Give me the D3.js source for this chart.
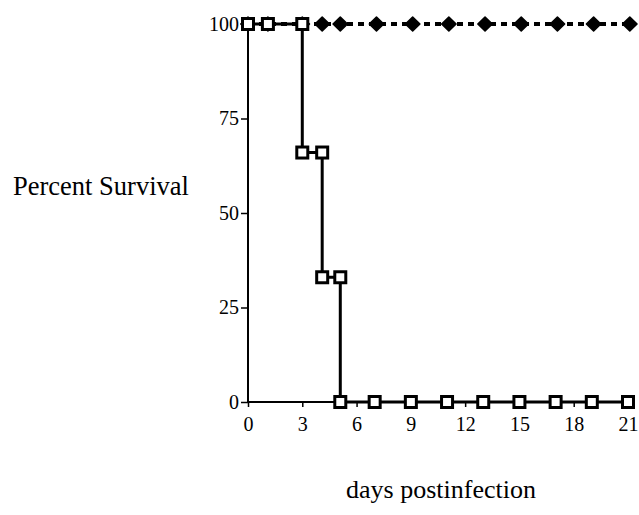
<!DOCTYPE html>
<html>
<head>
<meta charset="utf-8">
<script src="https://cdn.jsdelivr.net/npm/d3@7"></script>
<style>
  body { margin: 0; background: #fff; }
  text { font-family: "Liberation Serif", "Times New Roman", serif; fill: #000; }
</style>
</head>
<body>
<div id="chart"></div>
<script>
// data
var squareDays = [0, 1.1, 3, 3, 4.1, 4.1, 5.1, 5.1, 7, 9, 11, 13, 15, 17, 19, 21];
var squareSurvival = [100, 100, 100, 66, 66, 33, 33, 0, 0, 0, 0, 0, 0, 0, 0, 0];
var diamondDays = [0, 1.1, 3, 4.1, 5.1, 7.1, 9.1, 11.1, 13.1, 15.1, 17.1, 19.1, 21.1];
var diamondSurvival = [100, 100, 100, 100, 100, 100, 100, 100, 100, 100, 100, 100, 100];
var xTicks = [0, 3, 6, 9, 12, 15, 18, 21];
var yTicks = [0, 25, 50, 75, 100];

// set the dimensions and margins of the graph
var margin = {top: 24, right: 11, bottom: 113, left: 248},
    width = 639 - margin.left - margin.right,
    height = 515 - margin.top - margin.bottom;

var svg = d3.select("#chart")
  .append("svg")
    .attr("width", 639)
    .attr("height", 515)
  .append("g")
    .attr("transform", "translate(" + margin.left + "," + margin.top + ")");

var x = d3.scaleLinear().domain([0, 21]).range([0, width]);
var y = d3.scaleLinear().domain([0, 100]).range([height, 0]);

// axes
var xAxis = svg.append("g")
  .attr("transform", "translate(0," + height + ")")
  .call(d3.axisBottom(x).tickValues(xTicks).tickSize(5).tickPadding(10));
var yAxis = svg.append("g")
  .call(d3.axisLeft(y).tickValues(yTicks).tickSize(7).tickPadding(2));

[xAxis, yAxis].forEach(function(a) {
  a.select(".domain").attr("stroke-width", 2).attr("stroke", "#000");
  a.selectAll(".tick line").attr("stroke-width", 1.5).attr("stroke", "#000");
  a.selectAll(".tick text").style("font-size", "20px").style("font-family", "Liberation Serif");
});
xAxis.select(".domain").attr("d", "M0,0H" + width);
yAxis.select(".domain").attr("d", "M0," + height + "V0");

// diamond series (dashed)
var diamonds = diamondDays.map(function(d, i) { return [d, diamondSurvival[i]]; });
svg.append("path")
  .datum(diamonds)
  .attr("d", d3.line().x(function(d) { return x(d[0]); }).y(function(d) { return y(d[1]); }))
  .attr("fill", "none")
  .attr("stroke", "#000")
  .attr("stroke-width", 4)
  .attr("stroke-dasharray", "6,5");
svg.selectAll(".diamond")
  .data(diamonds)
  .enter()
  .append("path")
    .attr("class", "diamond")
    .attr("d", d3.symbol().type(d3.symbolDiamond2).size(120))
    .attr("transform", function(d) { return "translate(" + x(d[0]) + "," + y(d[1]) + ") scale(1.05,1)"; })
    .attr("fill", "#000")
    .attr("stroke", "#000")
    .attr("stroke-width", 1.5)
    .attr("stroke-linejoin", "round");

// square series (solid)
var squares = squareDays.map(function(d, i) { return [d, squareSurvival[i]]; });
svg.append("path")
  .datum(squares)
  .attr("d", d3.line().x(function(d) { return x(d[0]); }).y(function(d) { return y(d[1]); }))
  .attr("fill", "none")
  .attr("stroke", "#000")
  .attr("stroke-width", 3);
svg.selectAll(".square")
  .data(squares)
  .enter()
  .append("rect")
    .attr("class", "square")
    .attr("x", function(d) { return x(d[0]) - 5.5; })
    .attr("y", function(d) { return y(d[1]) - 5.5; })
    .attr("width", 11)
    .attr("height", 11)
    .attr("fill", "#fff")
    .attr("stroke", "#000")
    .attr("stroke-width", 3);

// axis titles
d3.select("svg").append("text")
  .attr("x", 13)
  .attr("y", 195)
  .style("font-size", "26.5px")
  .text("Percent Survival");
d3.select("svg").append("text")
  .attr("x", 441)
  .attr("y", 498)
  .attr("text-anchor", "middle")
  .style("font-size", "26px")
  .text("days postinfection");
</script>
</body>
</html>
